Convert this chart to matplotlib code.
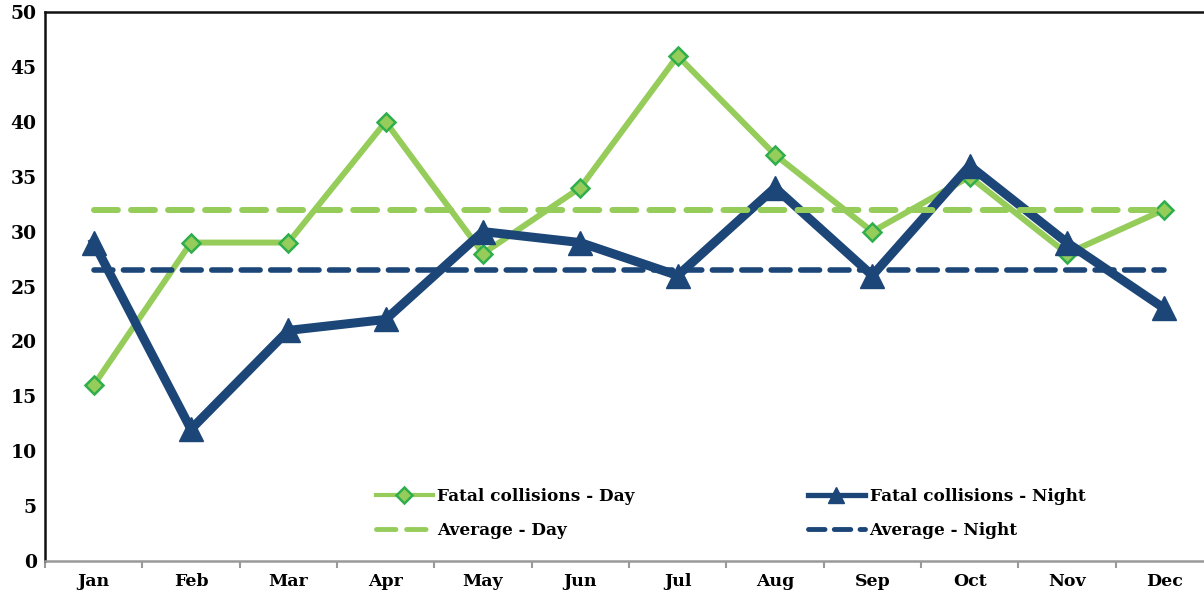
import matplotlib
matplotlib.use("Agg")
import matplotlib.pyplot as plt
import numpy as np

months = ["Jan", "Feb", "Mar", "Apr", "May", "Jun", "Jul", "Aug", "Sep", "Oct", "Nov", "Dec"]
day = [16, 29, 29, 40, 28, 34, 46, 37, 30, 35, 28, 32]
night = [29, 12, 21, 22, 30, 29, 26, 34, 26, 36, 29, 23]
avg_day = 32.0
avg_night = 26.5
yticks = [0, 5, 10, 15, 20, 25, 30, 35, 40, 45, 50]

GREEN = "#95cc5a"
GREEN_EDGE = "#2fae4e"
NAVY = "#1c4677"
FONT = "DejaVu Serif"

fig = plt.figure(figsize=(12.04, 5.98), dpi=100)
ax = fig.add_axes([45 / 1204, 1 - 561 / 598, (1213 - 45) / 1204, (561 - 12) / 598])

x = np.arange(len(months))
l_day, = ax.plot(x, day, color=GREEN, lw=4.3, marker="D", markersize=9,
                 markerfacecolor=GREEN, markeredgecolor=GREEN_EDGE, markeredgewidth=1.8,
                 zorder=3, label="Fatal collisions - Day", solid_joinstyle="miter")
l_night, = ax.plot(x, night, color=NAVY, lw=6.5, marker="^", markersize=17,
                   markerfacecolor=NAVY, markeredgecolor=NAVY,
                   zorder=4, label="Fatal collisions - Night", solid_joinstyle="miter")
l_aday, = ax.plot([x[0], x[-1]], [avg_day, avg_day], color=GREEN, lw=4.3,
                  dashes=(4, 2.2), zorder=5, label="Average - Day", dash_capstyle="round")
l_anight, = ax.plot([x[0], x[-1]], [avg_night, avg_night], color=NAVY, lw=4.0,
                    dashes=(3.4, 1.9), zorder=6, label="Average - Night", dash_capstyle="round")

ax.set_xlim(-0.5, 11.5)
ax.set_ylim(0, 50)
ax.set_yticks(yticks)
ax.set_yticklabels([str(v) for v in yticks], fontfamily=FONT, fontweight="bold", fontsize=13.5)
ax.set_xticks(x)
ax.set_xticklabels(months, fontfamily=FONT, fontweight="bold", fontsize=12.5)
ax.set_xticks(np.arange(-0.5, 12, 1), minor=True)
ax.tick_params(axis="x", which="major", length=0, pad=9)
ax.tick_params(axis="x", which="minor", length=5, width=1.5, color="#999999", direction="out")
ax.tick_params(axis="y", length=0, pad=6)

for s in ["left", "top"]:
    ax.spines[s].set_color("#111111")
    ax.spines[s].set_linewidth(1.8)
ax.spines["bottom"].set_color("#999999")
ax.spines["bottom"].set_linewidth(1.8)
ax.spines["right"].set_visible(False)

leg = ax.legend(handles=[l_day, l_aday, l_night, l_anight], ncol=2, frameon=False,
                loc="lower left", bbox_to_anchor=(0.27, 0.012),
                prop={"family": FONT, "weight": "bold", "size": 12.2},
                handlelength=3.4, handletextpad=0.25, columnspacing=10.2, labelspacing=1.0)
hs = leg.legend_handles
hs[0].set_linewidth(3.0)
hs[0].set_markersize(8)
hs[1].set_linewidth(3.5)
hs[2].set_linewidth(3.8)
hs[2].set_markersize(11)
hs[3].set_linewidth(3.5)

fig.savefig("out.png", dpi=100)
